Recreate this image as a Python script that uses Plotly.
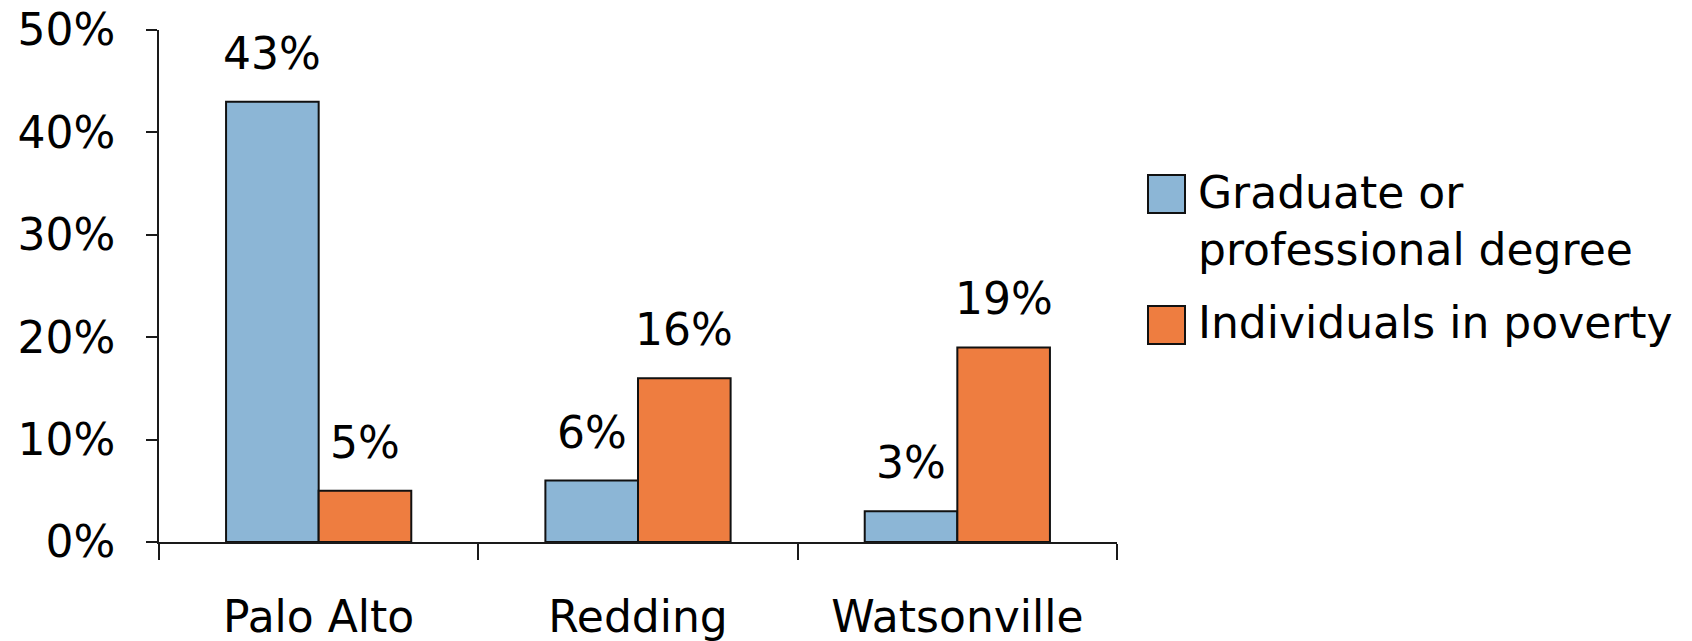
import plotly.graph_objects as go

# Data
cities = ["Palo Alto", "Redding", "Watsonville"]
series_names = ["Graduate or<br>professional degree", "Individuals in poverty"]
graduate_pct = [43, 6, 3]
poverty_pct = [5, 16, 19]
y_tick_vals = [0, 10, 20, 30, 40, 50]
y_tick_text = ["0%", "10%", "20%", "30%", "40%", "50%"]

colors = ["#8CB6D6", "#EE7D40"]
series_values = [graduate_pct, poverty_pct]

W, H = 1692, 641
margin = dict(l=159, r=575, t=30, b=99)
plot_w = W - margin["l"] - margin["r"]
plot_h = H - margin["t"] - margin["b"]
bargap = 0.42
font_family = "DejaVu Sans"
font_size = 44
edge = "#111111"

fig = go.Figure()
for name, vals, col in zip(series_names, series_values, colors):
    fig.add_trace(go.Bar(
        x=cities, y=vals, name=name,
        marker=dict(color=col, line=dict(color=edge, width=2)),
        showlegend=False,
    ))

# Value labels above each bar
cat_w = plot_w / len(cities)
bar_w = cat_w * (1 - bargap) / len(series_values)
annotations = []
for i, vals in enumerate(series_values):
    shift = (i - (len(series_values) - 1) / 2) * bar_w
    for city, v in zip(cities, vals):
        annotations.append(dict(
            x=city, y=v, xref="x", yref="y", text=f"{v}%",
            showarrow=False, xanchor="center", yanchor="bottom",
            xshift=shift, yshift=21,
            font=dict(family=font_family, size=font_size, color="black"),
        ))

# Legend drawn beside the plot
def px_to_paper_x(px):
    return (px - margin["l"]) / plot_w

def px_to_paper_y(py):
    return (H - margin["b"] - py) / plot_h

legend_items = [
    dict(box=(175, 213), text_center=221),
    dict(box=(306, 344), text_center=322),
]
shapes = []
for item, name, col in zip(legend_items, series_names, colors):
    top, bot = item["box"]
    shapes.append(dict(
        type="rect", xref="paper", yref="paper",
        x0=px_to_paper_x(1148), x1=px_to_paper_x(1185),
        y0=px_to_paper_y(bot), y1=px_to_paper_y(top),
        fillcolor=col, line=dict(color=edge, width=2),
    ))
    annotations.append(dict(
        x=px_to_paper_x(1196), y=px_to_paper_y(item["text_center"]),
        xref="paper", yref="paper", text=name, showarrow=False,
        xanchor="left", yanchor="middle", align="left",
        font=dict(family=font_family, size=font_size, color="black"),
    ))

fig.update_layout(
    width=W, height=H, margin=margin,
    barmode="group", bargap=bargap, bargroupgap=0,
    plot_bgcolor="white", paper_bgcolor="white",
    font=dict(family=font_family, size=font_size, color="black"),
    annotations=annotations, shapes=shapes,
    xaxis=dict(
        showline=True, linecolor="#1a1a1a", linewidth=1.8,
        ticks="outside", tickson="boundaries", ticklen=16,
        tickwidth=1.8, tickcolor="#1a1a1a",
        showgrid=False, ticklabelstandoff=35, automargin=False,
    ),
    yaxis=dict(
        range=[0, 50], tickvals=y_tick_vals, ticktext=y_tick_text,
        showline=True, linecolor="#1a1a1a", linewidth=1.8,
        ticks="outside", ticklen=11, tickwidth=1.8, tickcolor="#1a1a1a",
        showgrid=False, zeroline=False, ticklabelstandoff=22,
        automargin=False,
    ),
)

fig.write_html("out.html")
